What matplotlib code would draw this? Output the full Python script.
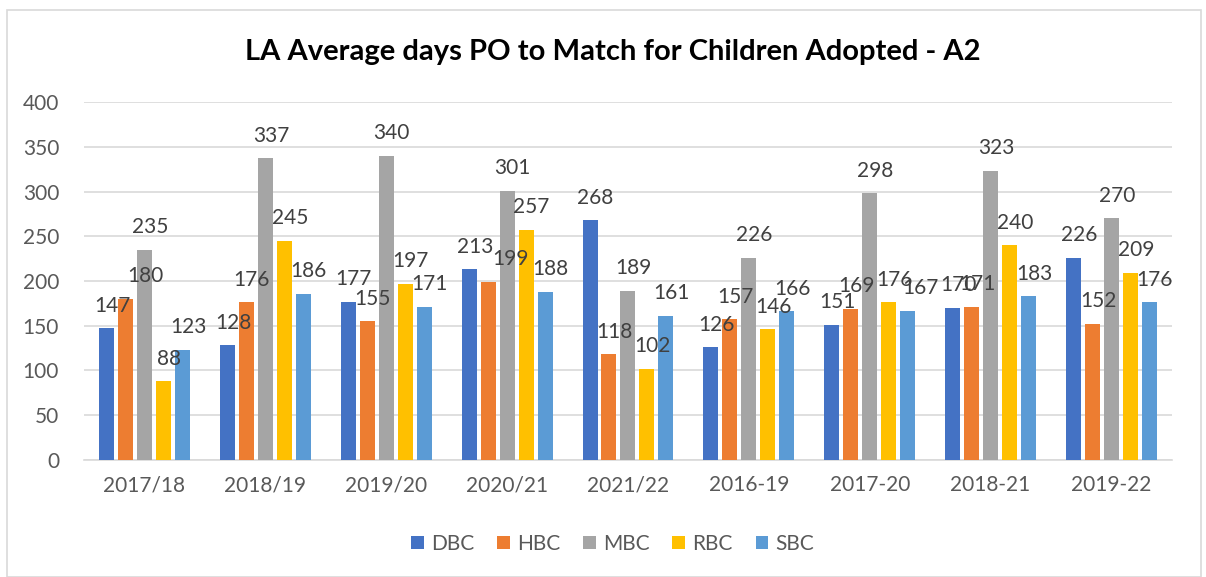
import numpy as np
import matplotlib
matplotlib.use("Agg")
import matplotlib.pyplot as plt
from matplotlib.patches import Rectangle

plt.rcParams['font.family'] = ['Lato', 'DejaVu Sans']

periods = ["2017/18", "2018/19", "2019/20", "2020/21", "2021/22",
           "2016-19", "2017-20", "2018-21", "2019-22"]
councils = ["DBC", "HBC", "MBC", "RBC", "SBC"]
dbc = [147, 128, 177, 213, 268, 126, 151, 170, 226]
hbc = [180, 176, 155, 199, 118, 157, 169, 171, 152]
mbc = [235, 337, 340, 301, 189, 226, 298, 323, 270]
rbc = [88, 245, 197, 257, 102, 146, 176, 240, 209]
sbc = [123, 186, 171, 188, 161, 166, 167, 183, 176]
series = [dbc, hbc, mbc, rbc, sbc]
colors = ["#4472C4", "#ED7D31", "#A5A5A5", "#FFC000", "#5B9BD5"]

# extra sideways shift (points) for a few data labels Excel pushed apart
label_nudge = {(1, 0): 10, (1, 3): 12, (4, 6): 5}

fig = plt.figure(figsize=(12.06, 5.77), dpi=100)
ax = fig.add_axes([0.0697, 0.2028, 0.902, 0.6204])

# light frame round the whole chart, like the Excel chart area
fig.patches.append(Rectangle((0.006, 0.0), 0.99, 0.982, transform=fig.transFigure,
                             fill=False, edgecolor="#D9D9D9", lw=1.2))

x = np.arange(len(periods))
step = 0.157
width = 0.124
for i, (name, vals, c) in enumerate(zip(councils, series, colors)):
    pos = x + (i - 2) * step
    bars = ax.bar(pos, vals, width, color=c, label=name, zorder=3)
    for j, (b, v) in enumerate(zip(bars, vals)):
        dx = 4 + label_nudge.get((i, j), 0)
        ax.annotate(str(v), (b.get_x() + b.get_width() / 2, v),
                    xytext=(dx, 9), textcoords="offset points",
                    ha="center", va="bottom", fontsize=15, color="#404040",
                    zorder=10)

ax.set_ylim(0, 400)
ax.set_yticks(range(0, 401, 50))
ax.set_xlim(-0.5, len(periods) - 0.5)
ax.set_xticks(x)
ax.set_xticklabels(periods)
ax.tick_params(axis="both", length=0, labelsize=15, labelcolor="#595959")
ax.tick_params(axis="x", pad=11)
ax.tick_params(axis="y", pad=18)
ax.grid(axis="y", color="#D9D9D9", lw=1.2, zorder=0)
for s in ["top", "right", "left"]:
    ax.spines[s].set_visible(False)
ax.spines["bottom"].set_color("#D9D9D9")
ax.spines["bottom"].set_linewidth(1.2)

fig.text(0.508, 0.91, "LA Average days PO to Match for Children Adopted - A2",
         ha="center", va="center", fontsize=21, fontweight="bold", color="black")

leg = fig.legend(loc="center", bbox_to_anchor=(0.508, 0.057), ncol=5, frameon=False,
                 fontsize=15, handlelength=0.6, handleheight=0.6, columnspacing=1.1,
                 handletextpad=0.35)
for t in leg.get_texts():
    t.set_color("#595959")

fig.savefig("out.png", dpi=100)
